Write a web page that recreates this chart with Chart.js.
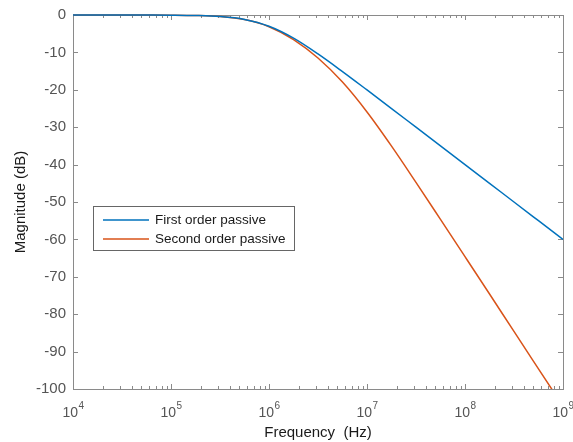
<!DOCTYPE html>
<html>
<head>
<meta charset="utf-8">
<script src="https://cdn.jsdelivr.net/npm/chart.js@4/dist/chart.umd.min.js"></script>
<style>
  html, body { margin: 0; padding: 0; background: #fff; }
  #wrap { width: 573px; height: 442px; }
</style>
</head>
<body>
<div id="wrap"><canvas id="c"></canvas></div>
<script>
// frequency points (Hz), 4 per decade
const freqs = [1e4, 1.78e4, 3.16e4, 5.62e4, 1e5, 1.78e5, 3.16e5, 5.62e5, 1e6, 1.78e6, 3.16e6,
               5.62e6, 1e7, 1.78e7, 3.16e7, 5.62e7, 1e8, 1.78e8, 3.16e8, 5.62e8, 1e9];
const firstOrder = [0, 0, -0.004, -0.014, -0.043, -0.135, -0.41, -1.19, -3.01, -6.19, -10.41,
                    -15.13, -20.04, -25.01, -30.0, -35.0, -40.0, -45.0, -50.0, -55.0, -60.0];
const secondOrder = [0, 0, -0.004, -0.014, -0.044, -0.139, -0.42, -1.23, -3.13, -6.57, -11.51,
                     -17.94, -25.93, -35.06, -44.74, -54.65, -64.61, -74.6, -84.6, -94.6, -104.6];
const seriesLabels = ['First order passive', 'Second order passive'];
const xTickValues = [1e4, 1e5, 1e6, 1e7, 1e8, 1e9];
const xTickExponents = ['4', '5', '6', '7', '8', '9'];
const yTickValues = [0, -10, -20, -30, -40, -50, -60, -70, -80, -90, -100];

const FONT = "'Liberation Sans', Arial, sans-serif";
const AXIS = '#8a8a8a';
const LABEL = '#555555';
const colors = ['#0072BD', '#D95319'];

// box, inward ticks and 10^n labels, MATLAB style
const framePlugin = {
    id: 'frame',
    beforeDatasetsDraw(chart) {
        const { ctx, chartArea: a, scales } = chart;
        ctx.save();
        ctx.strokeStyle = AXIS;
        ctx.lineWidth = 1;
        ctx.strokeRect(Math.round(a.left) + 0.5, Math.round(a.top) + 0.5,
                       Math.round(a.right - a.left), Math.round(a.bottom - a.top));
        ctx.beginPath();
        yTickValues.forEach(v => {
            const y = Math.round(scales.y.getPixelForValue(v)) + 0.5;
            ctx.moveTo(a.left, y); ctx.lineTo(a.left + 5, y);
            ctx.moveTo(a.right, y); ctx.lineTo(a.right - 5, y);
        });
        for (let e = 4; e < 9; e++) {
            for (let m = 1; m <= 9; m++) {
                const len = m === 1 ? 5 : 3;
                const x = Math.round(scales.x.getPixelForValue(m * Math.pow(10, e))) + 0.5;
                ctx.moveTo(x, a.bottom); ctx.lineTo(x, a.bottom - len);
                ctx.moveTo(x, a.top); ctx.lineTo(x, a.top + len);
            }
        }
        ctx.stroke();

        // x tick labels with superscript exponent
        ctx.fillStyle = LABEL;
        ctx.textBaseline = 'alphabetic';
        ctx.textAlign = 'left';
        xTickValues.forEach((v, i) => {
            const x = scales.x.getPixelForValue(v);
            ctx.font = '14px ' + FONT;
            const wBase = ctx.measureText('10').width;
            ctx.font = '10px ' + FONT;
            const wExp = ctx.measureText(xTickExponents[i]).width;
            const x0 = x - (wBase + wExp) / 2;
            ctx.font = '14px ' + FONT;
            ctx.fillText('10', x0, a.bottom + 28);
            ctx.font = '10px ' + FONT;
            ctx.fillText(xTickExponents[i], x0 + wBase + 0.5, a.bottom + 20);
        });
        ctx.restore();
    },
    afterDraw(chart) {
        const { ctx, chartArea: a } = chart;
        const bx = a.left + 20, by = a.top + 191, bw = 201, bh = 44;
        ctx.save();
        ctx.fillStyle = '#fff';
        ctx.fillRect(bx, by, bw, bh);
        ctx.strokeStyle = '#666';
        ctx.lineWidth = 1;
        ctx.strokeRect(bx + 0.5, by + 0.5, bw, bh);
        ctx.font = '13.5px ' + FONT;
        ctx.textBaseline = 'middle';
        chart.data.datasets.forEach((ds, i) => {
            const y = by + 14 + i * 19;
            ctx.strokeStyle = ds.borderColor;
            ctx.lineWidth = 1.5;
            ctx.beginPath();
            ctx.moveTo(bx + 10, y); ctx.lineTo(bx + 56, y);
            ctx.stroke();
            ctx.fillStyle = '#1a1a1a';
            ctx.fillText(ds.label, bx + 62, y);
        });
        ctx.restore();
    }
};

new Chart(document.getElementById('c'), {
    type: 'line',
    data: {
        datasets: [firstOrder, secondOrder].map((vals, i) => ({
            label: seriesLabels[i],
            data: freqs.map((f, j) => ({ x: f, y: vals[j] })),
            borderColor: colors[i],
            borderWidth: 1.5,
            pointRadius: 0,
            cubicInterpolationMode: 'monotone',
            clip: { left: 0, top: 3, right: 0, bottom: 0 }
        }))
    },
    options: {
        responsive: true,
        maintainAspectRatio: false,
        animation: false,
        layout: { padding: { left: 0, right: 10, top: 15, bottom: 0 } },
        plugins: {
            legend: { display: false },
            tooltip: { enabled: false }
        },
        scales: {
            x: {
                type: 'logarithmic',
                min: 1e4,
                max: 1e9,
                grid: { display: false, drawTicks: false },
                border: { display: false },
                afterBuildTicks: s => { s.ticks = xTickValues.map(v => ({ value: v })); },
                afterFit: s => { s.height = 53; s.paddingLeft = 0; s.paddingRight = 0; },
                ticks: { display: false },
                title: {
                    display: true,
                    text: 'Frequency  (Hz)',
                    color: '#1a1a1a',
                    font: { family: FONT, size: 15 },
                    padding: { top: 0, bottom: 0 }
                }
            },
            y: {
                min: -100,
                max: 0,
                grid: { display: false, drawTicks: false },
                border: { display: false },
                afterBuildTicks: s => { s.ticks = yTickValues.map(v => ({ value: v })); },
                afterFit: s => { s.width = 73; s.paddingTop = 0; s.paddingBottom = 0; },
                ticks: {
                    padding: 7,
                    color: LABEL,
                    font: { family: FONT, size: 15 }
                },
                title: {
                    display: true,
                    text: 'Magnitude (dB)',
                    color: '#1a1a1a',
                    font: { family: FONT, size: 15 },
                    padding: { top: 12, bottom: 0 }
                }
            }
        }
    },
    plugins: [framePlugin]
});
</script>
</body>
</html>
